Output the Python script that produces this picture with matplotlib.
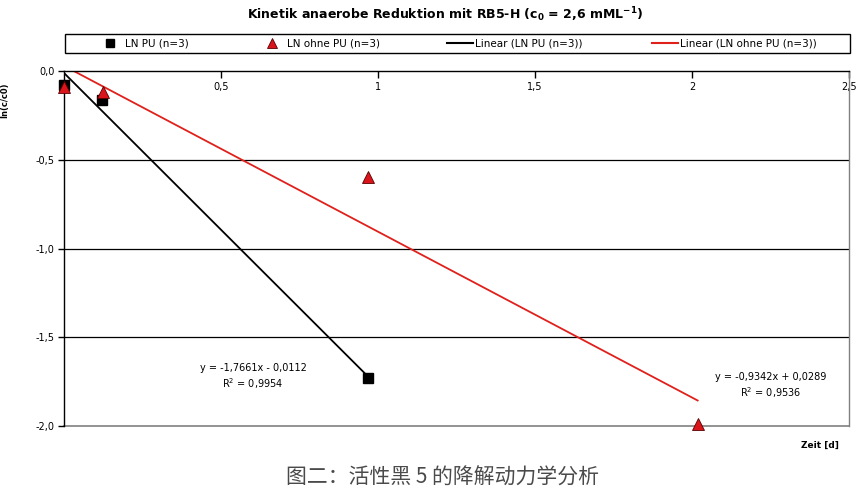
import matplotlib
matplotlib.use("Agg")
import matplotlib.pyplot as plt
import numpy as np
from matplotlib.lines import Line2D
from matplotlib.patches import Rectangle

plt.rcParams['font.family'] = ['DejaVu Sans']

# Measured data: ln(c/c0) over time
t_pu = [0.0, 0.121, 0.969]
ln_pu = [-0.08, -0.163, -1.73]
t_ohne = [0.0, 0.125, 0.969, 2.018]
ln_ohne = [-0.09, -0.12, -0.597, -1.99]

# Linear trend lines (slope, intercept)
fit_pu = (-1.7661, -0.0112)
fit_ohne = (-0.9342, 0.0289)
r2_pu = "0,9954"
r2_ohne = "0,9536"

x_ticks = [0.5, 1.0, 1.5, 2.0, 2.5]
x_ticklabels = ["0,5", "1", "1,5", "2", "2,5"]
y_ticks = [0.0, -0.5, -1.0, -1.5, -2.0]
y_ticklabels = ["0,0", "-0,5", "-1,0", "-1,5", "-2,0"]

fig = plt.figure(figsize=(8.6, 4.93), dpi=100)
W, H = 860, 493
ax = fig.add_axes([64 / W, 1 - 426 / H, (849 - 64) / W, (426 - 71) / H])
ax.set_xlim(0, 2.5)
ax.set_ylim(-2.0, 0.0)

# horizontal grid lines
for yv in [-0.5, -1.0, -1.5]:
    ax.axhline(yv, color="black", lw=0.9, zorder=1)

# trend lines
xa = np.array([t_pu[0], t_pu[-1]])
ax.plot(xa, fit_pu[0] * xa + fit_pu[1], color="black", lw=1.3, zorder=2)
xb = np.array([t_ohne[0], t_ohne[-1]])
ax.plot(xb, fit_ohne[0] * xb + fit_ohne[1], color="#e0201b", lw=1.3, zorder=2)

# data points
ax.plot(t_pu, ln_pu, ls="none", marker="s", ms=7, color="black", zorder=3, clip_on=False)
ax.plot(t_ohne, ln_ohne, ls="none", marker="^", ms=8, mfc="#d9141b", mec="#5a0000",
        mew=0.6, zorder=4, clip_on=False)

# axes styling: x axis at y = 0 with labels below
ax.spines["top"].set_visible(False)
ax.spines["bottom"].set_position(("data", 0.0))
ax.spines["bottom"].set_color("black")
ax.spines["bottom"].set_linewidth(1.0)
ax.spines["left"].set_color("black")
ax.spines["left"].set_linewidth(1.0)
ax.spines["right"].set_color("#808080")
ax.spines["right"].set_linewidth(1.0)
ax.axhline(-2.0, color="#808080", lw=1.2, zorder=1, clip_on=False)

ax.set_xticks(x_ticks)
ax.set_xticklabels(x_ticklabels)
ax.set_yticks(y_ticks)
ax.set_yticklabels(y_ticklabels)
ax.tick_params(axis="x", direction="out", length=5, width=1, labelsize=7, pad=3)
ax.tick_params(axis="y", direction="out", length=4, width=1, labelsize=7, pad=3)

# regression equations
ax.text(0.602, -1.675, "y = -1,7661x - 0,0112", fontsize=7, ha="center", va="center")
ax.text(0.602, -1.76, "R$^2$ = " + r2_pu, fontsize=7, ha="center", va="center")
ax.text(2.25, -1.725, "y = -0,9342x + 0,0289", fontsize=7, ha="center", va="center")
ax.text(2.25, -1.81, "R$^2$ = " + r2_ohne, fontsize=7, ha="center", va="center")

# title, axis labels, caption
fig.text(445 / W, 1 - 15 / H,
         r"Kinetik anaerobe Reduktion mit RB5-H (c$_\mathbf{0}$ = 2,6 mML$^\mathbf{-1}$)",
         ha="center", va="center", fontsize=9, fontweight="bold")
fig.text(820 / W, 1 - 445 / H, "Zeit [d]", ha="center", va="center",
         fontsize=6.5, fontweight="bold")
fig.text(5 / W, 1 - 100 / H, "ln(c/c0)", rotation=90, ha="center", va="center",
         fontsize=6, fontweight="bold")
fig.text(443 / W, 1 - 478 / H, "图二：活性黑 5 的降解动力学分析",
         ha="center", va="center", fontsize=15, color="#4a4a4a",
         family=["Noto Sans CJK SC", "DejaVu Sans"])

# legend: frame plus four entries at fixed positions
fig.patches.append(Rectangle((65 / W, 1 - 53 / H), 785 / W, 19 / H,
                             transform=fig.transFigure, fill=False,
                             edgecolor="black", lw=1.0))
handles = [
    Line2D([], [], ls="none", marker="s", ms=6, color="black"),
    Line2D([], [], ls="none", marker="^", ms=7, mfc="#d9141b", mec="#5a0000", mew=0.6),
    Line2D([], [], color="black", lw=1.5),
    Line2D([], [], color="#e0201b", lw=1.5),
]
labels = ["LN PU (n=3)", "LN ohne PU (n=3)", "Linear (LN PU (n=3))",
          "Linear (LN ohne PU (n=3))"]
starts = [97, 259, 447, 652]
for h, lab, x0 in zip(handles, labels, starts):
    fig.legend([h], [lab], loc="center left",
               bbox_to_anchor=(x0 / W, 1 - 43.5 / H),
               fontsize=7.5, frameon=False, borderaxespad=0, borderpad=0,
               handlelength=2.5, handletextpad=0.15)

fig.savefig("out.png", dpi=100)
